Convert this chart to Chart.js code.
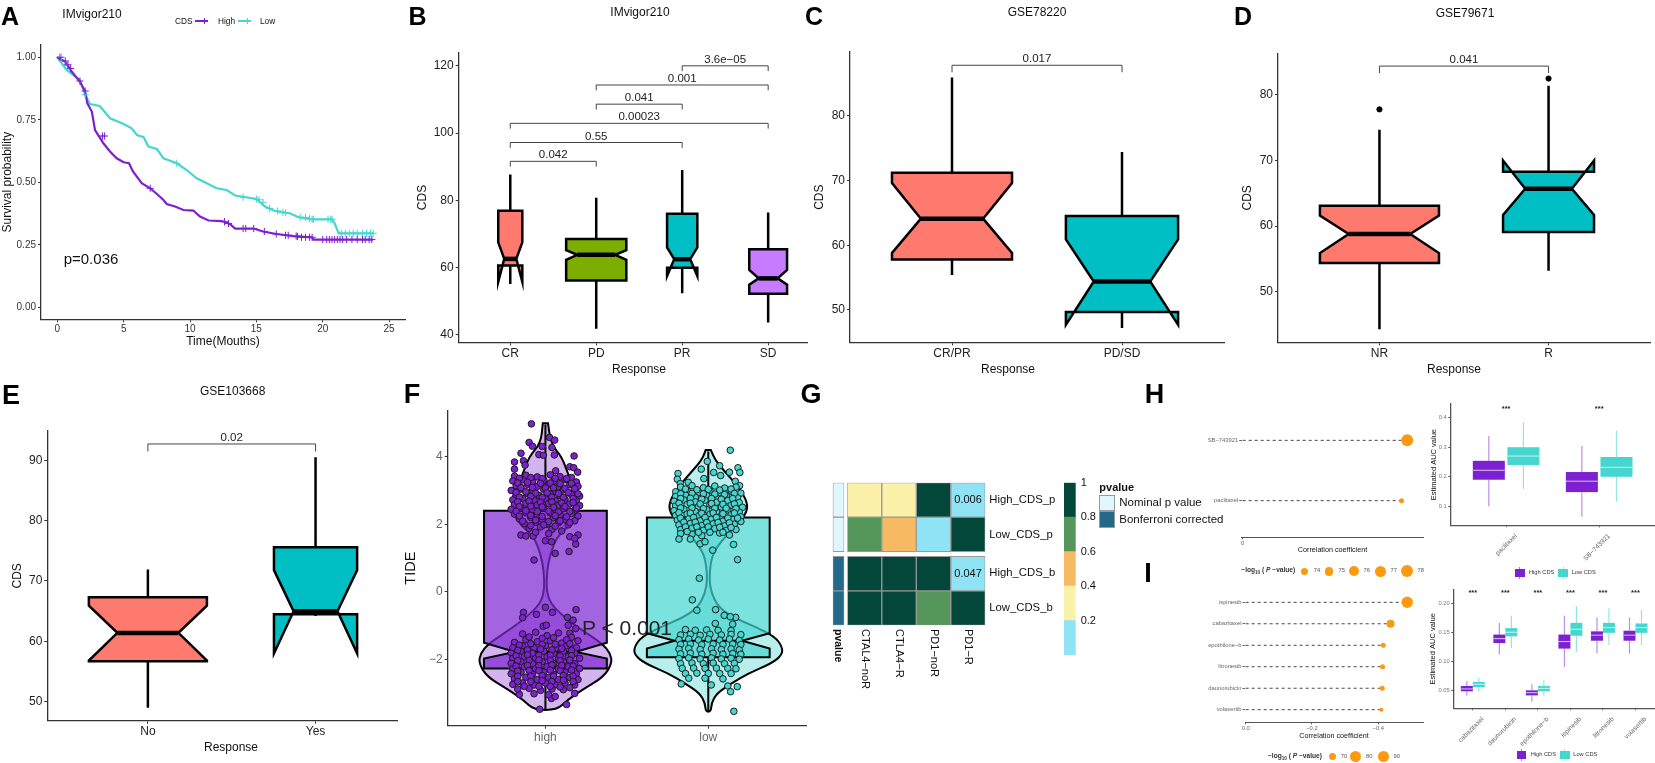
<!DOCTYPE html>
<html>
<head>
<meta charset="utf-8">
<title>CDS panels</title>
<script src="https://cdn.jsdelivr.net/npm/chart.js@4/dist/chart.umd.js"></script>
<style>
html, body { margin: 0; background: #fff; }
#page { position: relative; width: 1655px; height: 763px; overflow: hidden; font-family: "Liberation Sans", Arial, sans-serif; }
#page canvas { position: absolute; left: 0; top: 0; }
.t { position: absolute; white-space: nowrap; line-height: 1; z-index: 5; }
.g { position: absolute; z-index: 5; }
</style>
</head>
<body>
<div id="page"></div>
<script>
// ---- A: survival curves
const aHighT = [0,0.58,1.08,1.7,2.1,2.26,2.6,2.84,3.47,3.97,4.47,5,5.4,5.7,6.36,7,7.5,8,8.24,8.87,9.5,10.25,10.75,11.4,12.4,13,13.4,14.8,15.5,16.5,17.8,19.2,19.3,23.8];
const aHighS = [1,.983,.943,.903,.863,.816,.783,.709,.656,.623,.596,.58,.576,.543,.496,.476,.453,.429,.413,.403,.389,.387,.363,.347,.345,.333,.315,.315,.303,.293,.285,.28,.271,.271];
const aLowT = [0,.7,1.7,2.1,2.46,3.2,3.97,5,5.6,6,6.5,6.86,7.5,8,9,9.75,10.5,11.26,12,12.76,13.4,15,15.65,16.4,17.5,18.2,19.2,20.7,20.9,21.2,23.8];
const aLowS = [1,.949,.909,.849,.813,.805,.756,.733,.716,.689,.68,.643,.633,.596,.576,.549,.516,.496,.476,.469,.447,.433,.403,.385,.376,.36,.352,.352,.336,.296,.296];
const aCensorHighT = [.2,.6,.8,1,1.7,2.1,3.4,3.55,7,12.6,12.9,14,14.2,14.8,15.6,16.5,17.2,17.4,18,18.1,18.4,18.7,19,19.2,20,20.3,20.5,20.7,20.9,21.1,21.3,21.5,21.8,22.2,22.6,23,23.2,23.5,23.7];
const aCensorHighS = [1,.985,.97,.955,.905,.865,.685,.685,.476,.342,.335,.315,.315,.315,.303,.293,.288,.288,.285,.283,.28,.28,.28,.28,.271,.271,.271,.271,.271,.271,.271,.271,.271,.271,.271,.271,.271,.271,.271];
const aCensorLowT = [.3,.6,2.1,9,14,15,15.2,15.5,16,16.6,17,17.2,18.3,18.7,19,19.2,19.3,20.4,20.6,20.7,21.4,21.7,22,22.3,22.6,23,23.3,23.6,23.8];
const aCensorLowS = [1,.97,.85,.576,.44,.433,.43,.42,.395,.385,.38,.378,.36,.36,.355,.352,.352,.352,.352,.352,.296,.296,.296,.296,.296,.296,.296,.296,.296];

// ---- B-E: notched boxes
const bCats = ['CR','PD','PR','SD'];
const bHigh = [87.7,80.8,89,76.4], bQ3 = [76.9,68.5,76,65.5], bMed = [62.6,63.8,62.5,56.8];
const bQ1 = [60.6,56.2,60,52.2], bLow = [55.1,41.8,52.4,43.7];
const bNotchHi = [67.5,65.2,66,59.3], bNotchLo = [55.8,62.3,57.5,54.9];
const cCats = ['CR/PR','PD/SD'];
const cHigh = [85.9,74.4], cQ3 = [71.2,64.5], cMed = [64.1,54.4], cQ1 = [57.8,49.7], cLow = [55.4,47.2];
const cNotchHi = [69.6,60.9], cNotchLo = [58.8,47.7];
const dCats = ['NR','R'];
const dHigh = [74.7,81.4], dQ3 = [63.1,68.3], dMed = [58.8,65.7], dQ1 = [54.4,59.1], dLow = [44.3,53.2];
const dNotchHi = [61.6,70], dNotchLo = [55.9,61.7];
const dOutlierX = [0,1], dOutlierY = [77.8,82.5];
const eCats = ['No','Yes'];
const eHigh = [71.9,90.5], eQ3 = [67.3,75.6], eMed = [61.4,65], eQ1 = [56.7,64.5], eLow = [49,64.2];
const eNotchHi = [65.9,71.8], eNotchLo = [56.8,58];

// ---- F: TIDE
const fCats = ['high','low'];
const fHigh = [4.95,4.15], fQ3 = [2.4,2.2], fMed = [-1.78,-1.45], fQ1 = [-2.27,-1.94], fLow = [-3.5,-3.55];
const fNotchHi = [-1.51,-1.23], fNotchLo = [-1.98,-1.68];
const fHighViolinY = [4.985,4.39,4,3.41,2.71,2.22,1.93,1.63,1.14,.64,.05,-.35,-.74,-1.14,-1.53,-1.83,-2.12,-2.52,-2.91,-3.21,-3.5];
const fHighViolinW = [.016,.029,.102,.143,.215,.188,.143,.072,.031,.01,.006,.031,.112,.225,.348,.399,.409,.358,.225,.133,.072];
const fLowViolinY = [4.195,3.9,3.5,3.11,2.71,2.42,2.12,1.72,1.33,.94,.35,-.05,-.44,-.74,-1.03,-1.33,-1.63,-1.87,-2.12,-2.42,-2.71,-3.01,-3.3,-3.55];
const fLowViolinW = [.016,.04,.112,.184,.235,.241,.204,.123,.051,.016,.006,.02,.061,.143,.286,.409,.454,.454,.389,.245,.143,.051,.02,.016];
const fHighPoints = [[-.086,4.97],[-.1,4.42],[-.08,4.31],[.025,4.57],[.057,4.49],[.04,4.27],[-.02,4.3],[-.15,4.1],[-.04,4.06],[-.012,4.04],[.055,4.05],[.176,4.02],[-.19,3.84],[-.135,3.88],[-.125,3.75],[.15,3.7],[.174,3.67],[-.19,3.63],[.198,3.54],[.063,3.58],[-.07,.94],[.06,1.135],[.145,1.19],[.186,1.41],[.15,1.63],[.2,1.68],[.18,1.58],[-.15,1.68],[-.12,1.65],[-.075,1.65],[0,1.51],[.037,1.48],[0,-.46],[-.135,-.61],[-.055,-.67],[.043,-.61],[.188,-.53],[-.14,-.77],[.135,-.76],[.17,-.84],[.14,-.99],[.186,-1.09],[-.014,-1.02],[.006,-.99],[.15,-1.23],[-.035,-3.48],[.13,-3.34],[.037,-3.16],[.18,-3.01],[-.16,-3.04],
[-.19,3.42],[-.12,3.45],[-.05,3.4],[.03,3.46],[.09,3.41],[.16,3.38],[-.2,3.28],[-.14,3.31],[-.08,3.26],[-.01,3.3],[.05,3.27],[.12,3.32],[.19,3.25],[-.18,3.14],[-.11,3.18],[-.05,3.12],[.02,3.16],[.08,3.1],[.15,3.17],[.2,3.12],[-.21,3],[-.15,3.04],[-.08,2.98],[-.01,3.03],[.05,2.97],[.11,3.02],[.18,2.99],[-.18,2.86],[-.11,2.9],[-.04,2.85],[.03,2.89],[.09,2.84],[.16,2.88],[.21,2.83],[-.2,2.72],[-.14,2.76],[-.07,2.71],[0,2.75],[.06,2.7],[.12,2.74],[.19,2.69],[-.19,2.58],[-.12,2.62],[-.05,2.57],[.02,2.61],[.08,2.56],[.15,2.6],[.21,2.55],[-.21,2.44],[-.15,2.48],[-.08,2.43],[-.01,2.47],[.05,2.42],[.11,2.46],[.18,2.41],[-.19,2.3],[-.12,2.34],[-.05,2.29],[.03,2.33],[.09,2.28],[.16,2.32],[.2,2.24],[-.16,2.16],[-.09,2.2],[-.02,2.15],[.05,2.19],[.12,2.14],[.18,2.1],[-.13,2.02],[-.06,2.06],[.01,2],[.08,2.04],[.14,1.98],[-.1,1.88],[-.03,1.92],[.04,1.85],[.1,1.8],[-.06,1.76],[.02,1.72],
[-.16,3.36],[-.09,3.38],[-.02,3.35],[.06,3.36],[.13,3.35],[-.17,3.22],[-.11,3.24],[-.03,3.21],[.03,3.22],[.09,3.2],[.16,3.21],[-.15,3.08],[-.08,3.09],[0,3.07],[.05,3.08],[.12,3.06],[.18,3.05],[-.18,2.94],[-.12,2.96],[-.06,2.92],[.01,2.93],[.08,2.91],[.14,2.94],[.2,2.9],[-.16,2.8],[-.09,2.82],[-.02,2.79],[.04,2.8],[.11,2.79],[.17,2.76],[-.17,2.66],[-.1,2.68],[-.03,2.65],[.04,2.66],[.1,2.63],[.17,2.64],[-.16,2.52],[-.09,2.53],[-.02,2.51],[.05,2.5],[.12,2.52],[.19,2.48],[-.18,2.38],[-.12,2.4],[-.05,2.37],[.02,2.39],[.08,2.36],[.15,2.38],[-.16,2.24],[-.09,2.26],[-.02,2.23],[.06,2.25],[.13,2.22],[-.14,2.09],[-.06,2.12],[.02,2.08],[.09,2.1],[.15,2.05],[-.09,1.96],[-.01,1.98],[.06,1.94],
[-.14,-1.25],[-.06,-1.2],[.01,-1.3],[.08,-1.22],[.16,-1.35],[-.19,-1.5],[-.12,-1.42],[-.05,-1.48],[.03,-1.45],[.1,-1.52],[.2,-1.45],[-.2,-1.66],[-.14,-1.6],[-.07,-1.66],[0,-1.6],[.07,-1.67],[.13,-1.6],[.19,-1.66],[-.21,-1.82],[-.15,-1.76],[-.08,-1.82],[-.01,-1.76],[.05,-1.83],[.11,-1.76],[.18,-1.82],[-.2,-1.97],[-.13,-1.92],[-.06,-1.98],[.01,-1.92],[.08,-1.98],[.14,-1.92],[.21,-1.97],[-.21,-2.12],[-.15,-2.07],[-.08,-2.13],[-.02,-2.07],[.05,-2.13],[.11,-2.07],[.18,-2.13],[-.2,-2.28],[-.13,-2.22],[-.06,-2.28],[.01,-2.22],[.08,-2.28],[.14,-2.22],[.21,-2.27],[-.21,-2.43],[-.15,-2.38],[-.08,-2.44],[-.01,-2.38],[.05,-2.44],[.12,-2.38],[.19,-2.43],[-.19,-2.58],[-.12,-2.53],[-.05,-2.6],[.02,-2.54],[.08,-2.6],[.15,-2.54],[.2,-2.6],[-.2,-2.74],[-.14,-2.7],[-.07,-2.76],[0,-2.7],[.06,-2.76],[.12,-2.7],[.18,-2.76],[-.17,-2.88],[-.1,-2.86],[-.03,-2.92],[.04,-2.88],[.11,-2.9],[-.07,-3.02],[.02,-3.05],[.06,-3.1],
[-.1,-1.34],[-.02,-1.38],[.05,-1.36],[.13,-1.42],[-.16,-1.58],[-.09,-1.54],[-.02,-1.56],[.06,-1.55],[.15,-1.54],[-.17,-1.74],[-.11,-1.72],[-.03,-1.7],[.04,-1.72],[.1,-1.68],[.16,-1.74],[-.18,-1.9],[-.11,-1.87],[-.04,-1.88],[.03,-1.88],[.09,-1.9],[.16,-1.89],[-.17,-2.04],[-.1,-2.03],[-.04,-2.02],[.03,-2.03],[.09,-2.04],[.15,-2.02],[-.18,-2.2],[-.11,-2.18],[-.04,-2.19],[.04,-2.17],[.1,-2.18],[.17,-2.2],[-.17,-2.35],[-.1,-2.33],[-.04,-2.34],[.03,-2.32],[.09,-2.34],[.16,-2.32],[-.17,-2.5],[-.09,-2.5],[-.02,-2.48],[.05,-2.5],[.11,-2.48],[.17,-2.5],[-.17,-2.66],[-.09,-2.66],[-.02,-2.63],[.04,-2.66],[.11,-2.62],[.17,-2.66],[-.13,-2.8],[-.04,-2.8],[.03,-2.8],[.09,-2.82],[.15,-2.84]];
const fLowPoints = [[.135,4.19],[-.006,3.86],[.07,3.73],[-.043,3.63],[.182,3.67],[.033,3.53],[.13,3.54],[.194,3.53],[-.186,3.5],[-.19,3.33],[.076,3.44],[-.027,3.35],[-.123,3.24],[-.172,3.2],[.166,3.27],[.192,3.14],[.155,1.4],[.18,.95],[.027,1.23],[-.055,.4],[-.098,-.24],[-.07,-.55],[.045,-.53],[.098,-.7],[.168,-.76],[.135,-.74],[.043,-.94],[.15,-.96],[.12,-2.79],[.178,-2.81],[.137,-2.96],[.157,-3.54],[-.166,-2.73],[.018,-2.76],
[-.17,3.1],[-.1,3.14],[-.03,3.08],[.04,3.13],[.1,3.07],[.17,3.1],[-.2,2.96],[-.13,3],[-.06,2.94],[.01,2.99],[.07,2.93],[.14,2.98],[.2,2.92],[-.2,2.82],[-.14,2.86],[-.08,2.8],[-.01,2.85],[.05,2.79],[.11,2.84],[.18,2.78],[-.21,2.68],[-.15,2.72],[-.08,2.66],[-.02,2.71],[.05,2.65],[.12,2.7],[.19,2.64],[-.2,2.54],[-.13,2.58],[-.06,2.52],[.01,2.57],[.08,2.51],[.14,2.56],[.21,2.5],[-.21,2.4],[-.15,2.44],[-.08,2.38],[-.01,2.43],[.05,2.37],[.12,2.42],[.19,2.36],[-.2,2.26],[-.13,2.3],[-.06,2.24],[.01,2.29],[.08,2.23],[.14,2.28],[.2,2.22],[-.19,2.12],[-.12,2.16],[-.05,2.1],[.02,2.15],[.09,2.09],[.15,2.14],[.2,2.08],[-.18,1.98],[-.11,2.02],[-.04,1.96],[.03,2.01],[.1,1.95],[.16,2],[-.17,1.84],[-.1,1.88],[-.03,1.82],[.04,1.87],[.11,1.81],[.17,1.84],[-.17,1.72],[-.1,1.7],[-.04,1.66],[.07,1.74],[.13,1.68],[-.18,1.56],[-.11,1.56],[-.05,1.42],[-.02,1.48],
[-.14,3.04],[-.07,3.02],[0,3.03],[.07,3.01],[.14,3.04],[-.17,2.9],[-.1,2.91],[-.03,2.9],[.04,2.89],[.1,2.88],[.16,2.91],[-.17,2.76],[-.11,2.77],[-.04,2.74],[.02,2.76],[.08,2.74],[.15,2.76],[-.18,2.62],[-.11,2.62],[-.05,2.6],[.02,2.61],[.09,2.59],[.16,2.6],[-.17,2.48],[-.1,2.48],[-.03,2.46],[.04,2.47],[.11,2.47],[.17,2.46],[-.18,2.34],[-.11,2.33],[-.04,2.32],[.03,2.33],[.09,2.31],[.16,2.33],[-.17,2.18],[-.09,2.2],[-.02,2.2],[.05,2.2],[.12,2.18],[.18,2.18],[-.15,2.06],[-.08,2.06],[-.01,2.05],[.06,2.05],[.13,2.04],[-.14,1.92],[-.07,1.92],[0,1.92],[.07,1.91],[.14,1.9],[-.13,1.78],[-.06,1.76],[.01,1.76],[.09,1.76],
[-.14,-1.12],[-.08,-1.14],[-.01,-1.13],[.06,-1.14],[.14,-1.15],[-.17,-1.28],[-.11,-1.26],[-.05,-1.29],[.01,-1.26],[.08,-1.28],[.14,-1.26],[.2,-1.27],[-.18,-1.42],[-.12,-1.4],[-.06,-1.43],[0,-1.4],[.07,-1.43],[.13,-1.4],[.19,-1.44],[-.17,-1.56],[-.11,-1.55],[-.04,-1.57],[.03,-1.55],[.09,-1.56],[.15,-1.55],[.2,-1.56],[-.18,-1.7],[-.12,-1.68],[-.05,-1.71],[.02,-1.69],[.08,-1.71],[.14,-1.69],[.19,-1.72],[-.17,-1.84],[-.11,-1.82],[-.04,-1.85],[.03,-1.82],[.09,-1.85],[.15,-1.83],[.2,-1.85],[-.18,-1.98],[-.12,-1.96],[-.05,-1.99],[.02,-1.96],[.08,-1.99],[.14,-1.97],[.19,-2],[-.17,-2.13],[-.1,-2.11],[-.03,-2.13],[.03,-2.11],[.1,-2.13],[.16,-2.12],[-.16,-2.27],[-.09,-2.26],[-.02,-2.27],[.05,-2.26],[.12,-2.27],[.17,-2.28],[-.14,-2.42],[-.07,-2.41],[0,-2.42],[.07,-2.42],[.14,-2.42],[-.12,-2.56],[-.02,-2.56],[.09,-2.58]];

// ---- G: heatmap
const gColumns = ['CTAL4\u2212noR','CTLA4\u2212R','PD1\u2212noR','PD1\u2212R'];
const gRows = ['High_CDS_p','Low_CDS_p','High_CDS_b','Low_CDS_b'];
const gHighP = [.3,.3,1,.006], gLowP = [.7,.5,.1,1], gHighB = [1,1,1,.047], gLowB = [1,1,.7,1];
const gScaleTicks = [.2,.4,.6,.8,1];
const gScaleBins = [[0,.2],[.2,.4],[.4,.6],[.6,.8],[.8,1]];

// ---- H, I: lollipops and AUC boxes
const hDrugs = ['paclitaxel','SB\u2212743921'];
const hCor = [.48,.497], hLogP = [74,78];
const iDrugs = ['volasertib','daunorubicin','litronesib','epothilone\u2212b','cabazitaxel','ispinesib'];
const iCor = [-.409,-.412,-.413,-.415,-.437,-.4875], iLogP = [70,71,71,72,80,90];
const hBoxDrugs = ['paclitaxel','SB\u2212743921'];
const hHighStats = {low:[.1,.065], q1:[.19,.148], med:[.222,.185], q3:[.254,.216], high:[.338,.304]};
const hLowStats = {low:[.159,.116], q1:[.24,.2], med:[.27,.232], q3:[.3,.267], high:[.384,.356]};
const iBoxDrugs = ['cabazitaxel','daunorubicin','epothilone\u2212b','ispinesib','litronesib','volasertib'];
const iHighStats = {low:[.0414,.112,.031,.0905,.114,.113], q1:[.049,.1315,.042,.122,.1355,.1355], med:[.053,.139,.0466,.134,.145,.145], q3:[.058,.146,.0506,.146,.1515,.1526], high:[.0665,.166,.061,.178,.175,.175]};
const iLowStats = {low:[.048,.123,.0414,.116,.128,.128], q1:[.056,.143,.049,.144,.149,.149], med:[.061,.15,.054,.155,.158,.158], q3:[.065,.157,.058,.166,.166,.165], high:[.0717,.178,.068,.195,.191,.188]};

// colours
const RED = '#FF7A6E', GREEN = '#7CAE00', CYAN = '#00BFC4', VIOLET = '#C77CFF';
const PURPLE = '#7D20D0', TEAL = '#45D6D0', ORANGE = '#FB9A10';
const HEAT = ['#90E2F5','#FBF1A8','#F6BB62','#55965A','#03463A'];
const NOMINAL = '#E0F7FF', BONF = '#236A8A';

Chart.defaults.font.family = '"Liberation Sans", Arial, sans-serif';
Chart.defaults.animation = false;

const page = document.getElementById('page');
const pts = (xs, ys) => xs.map((x, i) => ({x, y: ys[i]}));

function txt(str, x, y, size, o) {
    o = o || {};
    const el = document.createElement('div');
    el.className = 't';
    el.innerHTML = str;
    el.style.left = x + 'px';
    el.style.top = y + 'px';
    el.style.fontSize = size + 'px';
    el.style.color = o.color || '#111';
    if (o.bold) el.style.fontWeight = 'bold';
    const tx = o.anchor === 'l' ? '0' : (o.anchor === 'r' ? '-100%' : '-50%');
    if (o.down) {
        el.style.transformOrigin = '0 50%';
        el.style.transform = 'translate(0,-50%) rotate(90deg)';
    } else {
        el.style.transform = 'translate(' + tx + ',-50%)';
    }
    page.appendChild(el);
}
function rect(x, y, w, h, fill, extra) {
    const el = document.createElement('div');
    el.className = 'g';
    el.style.cssText += `left:${x}px;top:${y}px;width:${w}px;height:${h}px;background:${fill};` + (extra || '');
    page.appendChild(el);
}

// every panel is a page sized canvas, the frame pins the plot area to the reference
function makeChart(frame, config) {
    const cv = document.createElement('canvas');
    cv.width = 1655; cv.height = 763;
    page.appendChild(cv);
    const yw = frame.yw || 0, xh = frame.xh || 0, yr = frame.yr || 0;
    config.options = config.options || {};
    const o = config.options;
    o.responsive = false;
    o.layout = {padding: {left: frame.l - yw, top: frame.t, right: 1655 - frame.r - yr, bottom: 763 - frame.b - xh}};
    o.plugins = Object.assign({legend: {display: false}, tooltip: {enabled: false}}, o.plugins || {});
    if (o.scales.y.display !== false) o.scales.y.afterFit = s => { s.width = yw || yr; };
    if (o.scales.x.display !== false) o.scales.x.afterFit = s => { s.height = xh; };
    return new Chart(cv.getContext('2d'), config);
}

function linearAxis(min, max, ticks, o) {
    o = o || {};
    const a = {
        type: 'linear', min, max, reverse: !!o.reverse,
        afterBuildTicks: s => { s.ticks = ticks.map(v => ({value: v})); },
        grid: {drawOnChartArea: false, tickLength: o.tickLength || 3, color: o.line || '#333', lineWidth: o.tickWidth || 1},
        border: {display: o.border !== false, color: o.line || '#333', width: o.lineWidth || 1.3},
        ticks: {
            padding: o.padding === undefined ? 2 : o.padding,
            autoSkip: false,
            color: o.color || '#222',
            font: {size: o.size || 12},
            callback: o.label || (v => String(v).replace('-', '\u2212')),
            minRotation: o.rotate || 0, maxRotation: o.rotate || 0,
            labelOffset: o.labelOffset || 0
        }
    };
    if (o.title) a.title = {display: true, text: o.title, color: o.titleColor || '#111', font: {size: o.titleSize || 12}, padding: 0};
    return a;
}

function drawBox(ctx, xs, ys, b) {
    const cx = xs.getPixelForValue(b.x);
    const hw = Math.abs(xs.getPixelForValue(b.x + b.w) - cx);
    const q3 = ys.getPixelForValue(b.q3), q1 = ys.getPixelForValue(b.q1), med = ys.getPixelForValue(b.med);
    ctx.save();
    ctx.lineJoin = 'miter';
    ctx.strokeStyle = b.whisker || '#000';
    ctx.lineWidth = b.whiskerWidth || 2.5;
    ctx.beginPath();
    ctx.moveTo(cx, ys.getPixelForValue(b.high)); ctx.lineTo(cx, q3);
    ctx.moveTo(cx, q1); ctx.lineTo(cx, ys.getPixelForValue(b.low));
    ctx.stroke();
    ctx.beginPath();
    if (b.nw) {
        const nw = Math.abs(xs.getPixelForValue(b.x + b.nw) - cx);
        const nh = ys.getPixelForValue(b.nhi), nl = ys.getPixelForValue(b.nlo);
        ctx.moveTo(cx - hw, q3); ctx.lineTo(cx + hw, q3); ctx.lineTo(cx + hw, nh);
        ctx.lineTo(cx + nw, med); ctx.lineTo(cx + hw, nl); ctx.lineTo(cx + hw, q1);
        ctx.lineTo(cx - hw, q1); ctx.lineTo(cx - hw, nl); ctx.lineTo(cx - nw, med);
        ctx.lineTo(cx - hw, nh); ctx.closePath();
        ctx.fillStyle = b.fill; ctx.fill();
        ctx.strokeStyle = '#000'; ctx.lineWidth = b.edge || 2.5; ctx.stroke();
        ctx.beginPath();
        ctx.moveTo(cx - nw, med); ctx.lineTo(cx + nw, med);
        ctx.lineWidth = b.medWidth || 4.5; ctx.stroke();
    } else {
        ctx.fillStyle = b.fill;
        ctx.fillRect(cx - hw, q3, 2 * hw, q1 - q3);
        ctx.beginPath();
        ctx.moveTo(cx - hw, med); ctx.lineTo(cx + hw, med);
        ctx.strokeStyle = b.medColor || '#fff'; ctx.lineWidth = b.medWidth || 1; ctx.stroke();
    }
    ctx.restore();
}
const boxPlugin = boxes => ({id: 'boxes', beforeDatasetsDraw(chart) {
    boxes.forEach(b => drawBox(chart.ctx, chart.scales.x, chart.scales.y, b));
}});

const bracketPlugin = (list, drop, size) => ({id: 'brackets', afterDatasetsDraw(chart) {
    const {ctx, scales: {x, y}} = chart;
    ctx.save();
    list.forEach(b => {
        const x1 = x.getPixelForValue(b[0]), x2 = x.getPixelForValue(b[1]), py = y.getPixelForValue(b[2]);
        ctx.beginPath();
        ctx.moveTo(x1, py + drop); ctx.lineTo(x1, py); ctx.lineTo(x2, py); ctx.lineTo(x2, py + drop);
        ctx.strokeStyle = '#444'; ctx.lineWidth = 1; ctx.stroke();
        ctx.fillStyle = '#222';
        ctx.font = size + 'px "Liberation Sans"';
        ctx.textAlign = 'center'; ctx.textBaseline = 'alphabetic';
        ctx.fillText(b[3], (x1 + x2) / 2, py - 3);
    });
    ctx.restore();
}});

function notchPanel(p) {
    const boxes = p.cats.map((c, i) => ({
        x: i, low: p.low[i], q1: p.q1[i], med: p.med[i], q3: p.q3[i], high: p.high[i],
        nlo: p.nlo[i], nhi: p.nhi[i], w: p.w[i], nw: p.nw[i], fill: p.fill[i]
    }));
    const datasets = [{data: pts(p.cats.map((c, i) => i), p.med), pointRadius: 0, showLine: false}];
    if (p.outX) datasets.push({data: pts(p.outX, p.outY), pointRadius: 2.6, backgroundColor: '#000', borderColor: '#000', showLine: false});
    makeChart(p.frame, {
        type: 'scatter',
        data: {datasets},
        plugins: [boxPlugin(boxes), bracketPlugin(p.brackets, p.drop, 11.5)],
        options: {scales: {
            x: linearAxis(-.6, p.xMax, p.cats.map((c, i) => i), {padding: 1, label: v => p.cats[v]}),
            y: linearAxis(p.yMin, p.yMax, p.yTicks, {title: 'CDS'})
        }}
    });
}

// A
makeChart({l: 41, t: 45, r: 405, b: 319.3, yw: 41, xh: 30}, {
    type: 'scatter',
    data: {datasets: [
        {data: pts(aCensorHighT, aCensorHighS), pointStyle: 'cross', pointRadius: 3.6, borderColor: PURPLE, borderWidth: 1, showLine: false},
        {data: pts(aCensorLowT, aCensorLowS), pointStyle: 'cross', pointRadius: 3.6, borderColor: TEAL, borderWidth: 1, showLine: false},
        {data: pts(aHighT, aHighS), borderColor: PURPLE, borderWidth: 2.2, pointRadius: 0, showLine: true},
        {data: pts(aLowT, aLowS), borderColor: TEAL, borderWidth: 2.2, pointRadius: 0, showLine: true}
    ]},
    options: {scales: {
        x: linearAxis(-1.23, 26.2, [0,5,10,15,20,25], {size: 10, padding: 1, color: '#333', title: 'Time(Mouths)'}),
        y: linearAxis(-.048, 1.049, [0,.25,.5,.75,1], {size: 10, color: '#333', label: v => v.toFixed(2), title: 'Survival probability'})
    }}
});

// B
notchPanel({
    frame: {l: 458.7, t: 52.7, r: 807.7, b: 342.3, yw: 43.6, xh: 20}, cats: bCats, xMax: 3.46,
    yMin: 37.8, yMax: 123.9, yTicks: [40,60,80,100,120],
    low: bLow, q1: bQ1, med: bMed, q3: bQ3, high: bHigh, nlo: bNotchLo, nhi: bNotchHi,
    w: [.14,.35,.176,.22], nw: [.07,.22,.093,.11], fill: [RED,GREEN,CYAN,VIOLET], drop: 5.3,
    brackets: [[0,1,91.6,'0.042'],[0,2,97.2,'0.55'],[0,3,102.9,'0.00023'],[1,2,108.6,'0.041'],[1,3,114.3,'0.001'],[2,3,120,'3.6e\u221205']]
});
// C
notchPanel({
    frame: {l: 850, t: 52, r: 1224, b: 342.3, yw: 37.5, xh: 20}, cats: cCats, xMax: 1.6,
    yMin: 45, yMax: 89.85, yTicks: [50,60,70,80],
    low: cLow, q1: cQ1, med: cMed, q3: cQ3, high: cHigh, nlo: cNotchLo, nhi: cNotchHi,
    w: [.353,.33], nw: [.183,.166], fill: [RED,CYAN], drop: 7,
    brackets: [[0,1,87.8,'0.017']]
});
// D
notchPanel({
    frame: {l: 1278, t: 53.3, r: 1651, b: 342.3, yw: 37.3, xh: 20}, cats: dCats, xMax: 1.6,
    yMin: 42.3, yMax: 86.35, yTicks: [50,60,70,80],
    low: dLow, q1: dQ1, med: dMed, q3: dQ3, high: dHigh, nlo: dNotchLo, nhi: dNotchHi,
    w: [.352,.269], nw: [.182,.138], fill: [RED,CYAN], drop: 7, outX: dOutlierX, outY: dOutlierY,
    brackets: [[0,1,84.4,'0.041']]
});
// E
notchPanel({
    frame: {l: 47.3, t: 431, r: 397.7, b: 720.7, yw: 37.2, xh: 20}, cats: eCats, xMax: 1.49,
    yMin: 46.85, yMax: 94.85, yTicks: [50,60,70,80,90],
    low: eLow, q1: eQ1, med: eMed, q3: eQ3, high: eHigh, nlo: eNotchLo, nhi: eNotchHi,
    w: [.352,.248], nw: [.182,.131], fill: [RED,CYAN], drop: 7.5,
    brackets: [[0,1,92.7,'0.02']]
});

// F
function drawViolin(ctx, xs, ys, center, vy, vw, fill) {
    const right = vy.map((v, i) => [xs.getPixelForValue(center + vw[i]), ys.getPixelForValue(v)]);
    const left = vy.map((v, i) => [xs.getPixelForValue(center - vw[i]), ys.getPixelForValue(v)]).reverse();
    const path = right.concat(left);
    ctx.beginPath();
    ctx.moveTo(path[0][0], path[0][1]);
    for (let i = 1; i < path.length - 1; i++) {
        const mx = (path[i][0] + path[i + 1][0]) / 2, my = (path[i][1] + path[i + 1][1]) / 2;
        ctx.quadraticCurveTo(path[i][0], path[i][1], mx, my);
    }
    ctx.lineTo(path[path.length - 1][0], path[path.length - 1][1]);
    ctx.closePath();
    ctx.fillStyle = fill; ctx.fill();
    ctx.strokeStyle = '#000'; ctx.lineWidth = 2; ctx.stroke();
}
const fBoxes = fCats.map((c, i) => ({
    x: i, low: fLow[i], q1: fQ1[i], med: fMed[i], q3: fQ3[i], high: fHigh[i], nlo: fNotchLo[i], nhi: fNotchHi[i],
    w: .377, nw: [.188,.207][i], fill: ['rgba(128,40,210,.72)','rgba(69,214,208,.7)'][i], edge: 2, whiskerWidth: 2, medWidth: 2
}));
makeChart({l: 447.7, t: 410.7, r: 806, b: 725.7, yw: 45.7, xh: 20}, {
    type: 'scatter',
    data: {datasets: [
        {data: fHighPoints.map(p => ({x: p[0], y: p[1]})), pointRadius: 3.3, backgroundColor: PURPLE, borderColor: '#1a1a1a', borderWidth: 1, showLine: false},
        {data: fLowPoints.map(p => ({x: 1 + p[0], y: p[1]})), pointRadius: 3.3, backgroundColor: TEAL, borderColor: '#1a1a1a', borderWidth: 1, showLine: false}
    ]},
    plugins: [{id: 'violins', beforeDatasetsDraw(chart) {
        const {ctx, scales: {x, y}} = chart;
        ctx.save();
        drawViolin(ctx, x, y, 0, fHighViolinY, fHighViolinW, 'rgba(128,40,210,.35)');
        drawViolin(ctx, x, y, 1, fLowViolinY, fLowViolinW, 'rgba(69,214,208,.38)');
        ctx.restore();
        fBoxes.forEach(b => drawBox(ctx, x, y, b));
    }}],
    options: {scales: {
        x: linearAxis(-.6, 1.6, [0,1], {padding: 2, color: '#666', label: v => fCats[v]}),
        y: linearAxis(-3.966, 5.36, [-2,0,2,4], {color: '#666', title: 'TIDE', titleSize: 14.5})
    }}
});
txt('P &lt; 0.001', 627, 626.7, 21, {color: '#222'});

// G heatmap: floating bars one per cell, rows stacked by span
const gRowSpan = [[3.136,4.136],[2.136,3.136],[1,2],[0,1]];
const gValues = [gHighP, gLowP, gHighB, gLowB];
const heatColor = p => HEAT[Math.min(4, Math.floor(p * 5))];
makeChart({l: 847.3, t: 482.7, r: 985.3, b: 625.3}, {
    type: 'bar',
    data: {labels: gColumns, datasets: gRows.map((r, i) => ({
        label: r, grouped: false, barPercentage: 1, categoryPercentage: 1,
        data: gValues[i].map(() => gRowSpan[i]),
        backgroundColor: gValues[i].map(heatColor),
        borderColor: '#999', borderWidth: 1, borderSkipped: false
    }))},
    plugins: [{id: 'cellText', afterDatasetsDraw(chart) {
        const ctx = chart.ctx;
        ctx.save();
        ctx.font = '11px "Liberation Sans"'; ctx.fillStyle = '#111';
        ctx.textAlign = 'center'; ctx.textBaseline = 'middle';
        gValues.forEach((row, r) => row.forEach((p, c) => {
            if (p < .05) {
                const pt = chart.getDatasetMeta(r).data[c].getCenterPoint();
                ctx.fillText(String(p), pt.x, pt.y);
            }
        }));
        ctx.restore();
    }}],
    options: {scales: {x: {display: false}, y: {display: false, min: 0, max: 4.136}}}
});
// annotation strip
const gAnnot = [NOMINAL, NOMINAL, BONF, BONF];
makeChart({l: 832.7, t: 482.7, r: 844.3, b: 625.3}, {
    type: 'bar',
    data: {labels: ['pvalue'], datasets: gRows.map((r, i) => ({
        label: r, grouped: false, barPercentage: 1, categoryPercentage: 1,
        data: [gRowSpan[i]], backgroundColor: gAnnot[i], borderColor: '#999', borderWidth: 1, borderSkipped: false
    }))},
    options: {scales: {x: {display: false}, y: {display: false, min: 0, max: 4.136}}}
});
// colour scale
makeChart({l: 1064, t: 482.7, r: 1075.7, b: 655, yr: 24}, {
    type: 'bar',
    data: {labels: ['p'], datasets: gScaleBins.map((b, i) => ({
        grouped: false, barPercentage: 1, categoryPercentage: 1, data: [b], backgroundColor: HEAT[i]
    }))},
    options: {scales: {
        x: {display: false},
        y: {type: 'linear', position: 'right', min: 0, max: 1,
            afterBuildTicks: s => { s.ticks = gScaleTicks.map(v => ({value: v})); },
            grid: {display: false, drawTicks: false}, border: {display: false},
            ticks: {padding: 5, color: '#111', font: {size: 11}, callback: v => String(v)}}
    }}
});
gRows.forEach((r, i) => txt(r, 989.3, [500,535,573,608][i], 11.3, {anchor: 'l'}));
gColumns.forEach((c, i) => txt(c, 864.6 + i * 34.5, 629, 11, {down: true}));
txt('pvalue', 838.5, 629, 10.5, {down: true, bold: true});
txt('pvalue', 1099.3, 487.3, 11, {anchor: 'l', bold: true});
rect(1099, 495, 16.3, 16.3, NOMINAL, 'outline:1px solid #999;outline-offset:-1px;');
rect(1099, 511.3, 16.3, 16.7, BONF, 'outline:1px solid #999;outline-offset:-1px;');
txt('Nominal p value', 1119.3, 503.3, 11.5, {anchor: 'l'});
txt('Bonferroni corrected', 1119.3, 520, 11.5, {anchor: 'l'});

// H, I lollipops
const lollipop = (names, cor, radius, yMin, yMax, frame, xAxis) => makeChart(frame, {
    type: 'scatter',
    data: {datasets: names.map((n, i) => ({
        label: n,
        data: [{x: 0, y: i}, {x: cor[i], y: i}],
        showLine: true, borderColor: '#333', borderWidth: .9, borderDash: [3, 3],
        pointRadius: [0, radius[i]], pointBackgroundColor: ORANGE, pointBorderColor: ORANGE, pointBorderWidth: 0
    }))},
    options: {scales: {
        x: xAxis,
        y: linearAxis(yMin, yMax, names.map((n, i) => i), {border: false, size: 5.8, color: '#666', line: '#666', tickLength: 2.5, padding: 1, label: v => names[v]})
    }}
});
const radiusH = hLogP.map(v => v === 78 ? 6 : 2.5);
lollipop(hDrugs, hCor, radiusH, -.606, 1.419, {l: 1241.7, t: 415, r: 1423.3, b: 537.3, yw: 40, xh: 17},
    linearAxis(-.003, .5456, [0], {size: 5.8, color: '#666', line: '#555', lineWidth: 1, tickLength: 2, padding: 1, title: 'Correlation coefficient', titleSize: 7.2}));
const radiusI = [2, 2.5, 2.5, 2.5, 4, 5.7];
lollipop(iDrugs, iCor, radiusI, -.587, 5.573, {l: 1245, t: 590, r: 1423, b: 722.3, yw: 40, xh: 17.6},
    linearAxis(-.535, .002, [0,-.2,-.4], {reverse: true, size: 5.8, color: '#666', line: '#555', lineWidth: 1, tickLength: 2, padding: 1, label: v => v === 0 ? '0.0' : v.toFixed(1).replace('-', '\u2212'), title: 'Correlation coefficient', titleSize: 7.2}));

const logLabel = '\u2212log<sub style="font-size:70%">10</sub> ( <i>P</i> \u2212value)';
txt(logLabel, 1241.3, 571.3, 6.6, {anchor: 'l', bold: true, color: '#333'});
[[1304.7,3.5,'74',1317],[1329,4.3,'75',1341.7],[1354,5,'76',1366.7],[1380,5.5,'77',1393.7],[1407.3,6,'78',1420.7]].forEach(d => {
    rect(d[0] - d[1], 571.3 - d[1], 2 * d[1], 2 * d[1], ORANGE, 'border-radius:50%;');
    txt(d[2], d[3], 571.3, 5.8, {color: '#555'});
});
txt(logLabel, 1268, 756.7, 6.6, {anchor: 'l', bold: true, color: '#333'});
[[1332,3.5,'70',1344],[1355.5,5.5,'80',1369.3],[1383.3,5.7,'90',1396.7]].forEach(d => {
    rect(d[0] - d[1], 756.7 - d[1], 2 * d[1], 2 * d[1], ORANGE, 'border-radius:50%;');
    txt(d[2], d[3], 756.7, 5.8, {color: '#555'});
});

// H, I AUC boxes
function dodged(stats, offset, w, fill, whisker, med) {
    return stats.med.map((m, i) => ({
        x: i + offset, low: stats.low[i], q1: stats.q1[i], med: m, q3: stats.q3[i], high: stats.high[i],
        w, fill, whisker, whiskerWidth: 1.2, medColor: med, medWidth: 1
    }));
}
function starPlugin(count, y) {
    return {id: 'stars', afterDatasetsDraw(chart) {
        const {ctx, scales} = chart;
        ctx.save();
        ctx.font = 'bold 7.5px "Liberation Sans"'; ctx.fillStyle = '#222';
        ctx.textAlign = 'center'; ctx.textBaseline = 'middle';
        for (let i = 0; i < count; i++) ctx.fillText('***', scales.x.getPixelForValue(i), scales.y.getPixelForValue(y));
        ctx.restore();
    }};
}
function aucPanel(frame, names, highStats, lowStats, off, w, yMin, yMax, yTicks, starY, fmt) {
    const boxes = dodged(highStats, -off, w, PURPLE, 'rgba(125,32,208,.5)', '#D9C4F2').concat(dodged(lowStats, off, w, TEAL, 'rgba(69,214,208,.6)', '#C9F5F2'));
    makeChart(frame, {
        type: 'scatter',
        data: {datasets: [
            {label: 'High CDS', data: pts(names.map((n, i) => i - off), highStats.med), pointRadius: 0, showLine: false},
            {label: 'Low CDS', data: pts(names.map((n, i) => i + off), lowStats.med), pointRadius: 0, showLine: false}
        ]},
        plugins: [boxPlugin(boxes), starPlugin(names.length, starY)],
        options: {scales: {
            x: linearAxis(-.6, names.length - .4, names.map((n, i) => i), {size: 6.6, color: '#666', line: '#555', tickLength: 2, padding: 5, rotate: 45, labelOffset: 10, label: v => names[v]}),
            y: linearAxis(yMin, yMax, yTicks, {size: 5.8, color: '#777', line: '#555', tickLength: 2, padding: 1.5, label: fmt, title: 'Estimated AUC value', titleSize: 7.5})
        }}
    });
}
aucPanel({l: 1450.3, t: 404, r: 1655, b: 525.3, yw: 20.8, xh: 42}, hBoxDrugs, hHighStats, hLowStats, .186, .172,
    .1 - (525.3 - 506.3) / 295.5, .4 + (417.7 - 404) / 295.5, [.1,.2,.3,.4], .43, v => v.toFixed(1));
aucPanel({l: 1453.3, t: 589.3, r: 1655, b: 708.3, yw: 24.5, xh: 42}, iBoxDrugs, iHighStats, iLowStats, .184, .184,
    .05 - (708.3 - 690.7) / 584.6, .2 + (603 - 589.3) / 584.6, [.05,.1,.15,.2], .2166, v => v.toFixed(2));

function boxLegend(y, x1, x2, x3, x4) {
    rect(x1, y - 4, 9.5, 8, PURPLE);
    rect(x1 + 4.2, y - 6, 1, 12, 'rgba(125,32,208,.6)');
    txt('High CDS', x2, y, 5.7, {anchor: 'l', color: '#333'});
    rect(x3, y - 4, 9.5, 8, TEAL);
    rect(x3 + 4.2, y - 6, 1, 12, 'rgba(69,214,208,.6)');
    txt('Low CDS', x4, y, 5.7, {anchor: 'l', color: '#333'});
}
boxLegend(573.3, 1515, 1529, 1558.3, 1571.7);
boxLegend(755, 1516.7, 1530.7, 1560, 1573.3);

// titles, letters and the loose legend in A
txt('A', 10, 15.5, 25, {bold: true, color: '#000'});
txt('B', 417.5, 15.5, 25, {bold: true, color: '#000'});
txt('C', 814, 15.5, 25, {bold: true, color: '#000'});
txt('D', 1243, 15.5, 25, {bold: true, color: '#000'});
txt('E', 11, 394.5, 27, {bold: true, color: '#000'});
txt('F', 412, 394, 27, {bold: true, color: '#000'});
txt('G', 811, 394, 27, {bold: true, color: '#000'});
txt('H', 1154.5, 394, 27, {bold: true, color: '#000'});
txt('I', 1148, 573, 27, {bold: true, color: '#000'});
txt('IMvigor210', 92, 14, 12);
txt('IMvigor210', 640, 12, 12);
txt('GSE78220', 1037, 12, 12);
txt('GSE79671', 1465, 13, 12);
txt('GSE103668', 232.7, 391, 12);
txt('Response', 639, 369, 12);
txt('Response', 1008, 369, 12);
txt('Response', 1454, 369, 12);
txt('Response', 231, 746.7, 12);
txt('p=0.036', 91, 258, 15);
txt('CDS', 175, 21, 8.3, {anchor: 'l'});
rect(195, 20.2, 13, 1.6, PURPLE); rect(204, 18, 1, 6, PURPLE);
txt('High', 218, 21, 8.3, {anchor: 'l'});
rect(238, 20.2, 13, 1.6, TEAL); rect(247, 18, 1, 6, TEAL);
txt('Low', 260, 21, 8.3, {anchor: 'l'});
</script>
</body>
</html>
